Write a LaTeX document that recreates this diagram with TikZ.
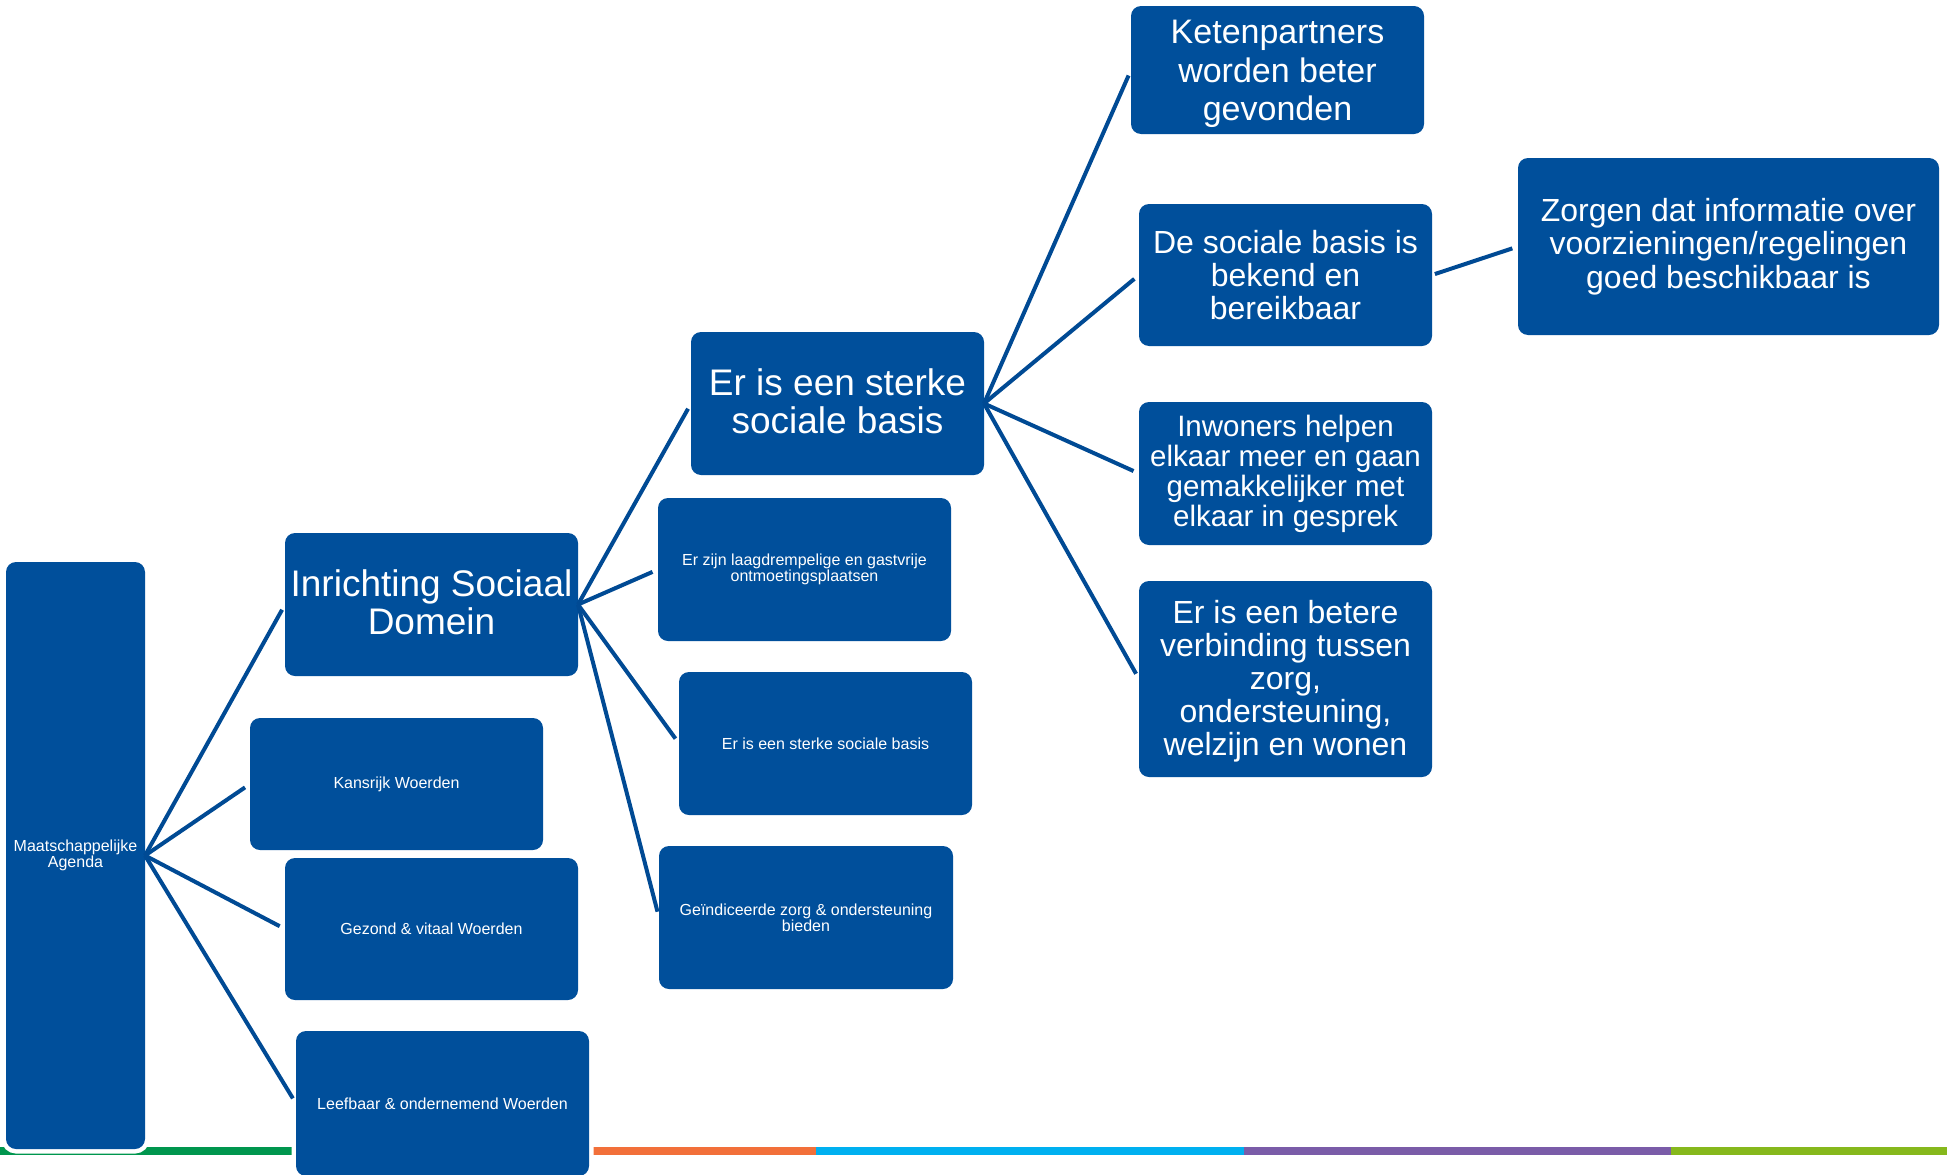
\documentclass[tikz,border=0pt]{standalone}
\usepackage{fontspec}
\setmainfont{Liberation Sans}
\definecolor{boxblue}{RGB}{0,79,155}
\definecolor{linkblue}{RGB}{0,74,148}
\definecolor{bgreen}{RGB}{0,150,78}
\definecolor{borange}{RGB}{242,112,58}
\definecolor{bcyan}{RGB}{0,176,240}
\definecolor{bpurple}{RGB}{122,92,168}
\definecolor{blime}{RGB}{134,184,28}
\newcommand\myupstrut[1]{\rule{0pt}{#1}}
\newcommand\mydnstrut[1]{\rule[-#1]{0pt}{#1}}
\begin{document}
\begin{tikzpicture}[x=1pt,y=-1pt,
  card/.style={rectangle, rounded corners=10pt, fill=boxblue, text=white, align=center,
    inner sep=0pt, outer sep=0pt, preaction={draw=white, line width=9pt, fill=none}},
  link/.style={draw=linkblue, line width=4pt, shorten >=6pt},
  fsz/.style 2 args={font=\fontsize{#1}{#2}\selectfont},
]
\useasboundingbox[fill=white] (0,0) rectangle (1947,1175);

% bottom colour bar
\fill[bgreen]  (0,1147) rectangle (440,1155);
\fill[borange] (440,1147) rectangle (816,1155);
\fill[bcyan]   (816,1147) rectangle (1244,1155);
\fill[bpurple] (1244,1147) rectangle (1671,1155);
\fill[blime]   (1671,1147) rectangle (1947,1155);

% column 1
\node[card, minimum width=139pt, minimum height=587pt, fsz={16}{16}] (ma) at (75.5,855.5) {Maatschappelijke\\Agenda};

% column 2
\node[card, minimum width=293pt, minimum height=143pt, fsz={37}{38.5}] (isd) at (431.5,604.5) {Inrichting Sociaal\\Domein\mydnstrut{5pt}};
\node[card, minimum width=293pt, minimum height=132pt, fsz={16}{16}] (kw) at (396.5,784) {Kansrijk Woerden};
\node[card, minimum width=293pt, minimum height=142pt, fsz={16}{16}] (gv) at (431.5,929) {Gezond \& vitaal Woerden};
\node[card, minimum width=293pt, minimum height=145pt, fsz={16}{16}] (lo) at (442.5,1103.5) {Leefbaar \& ondernemend Woerden};

% column 3
\node[card, minimum width=293pt, minimum height=143pt, fsz={37}{38.5}] (esb) at (837.5,403.5) {Er is een sterke\\sociale basis\mydnstrut{5pt}};
\node[card, minimum width=293pt, minimum height=143pt, fsz={16}{16}] (lgo) at (804.5,569.5) {Er zijn laagdrempelige en gastvrije\\ontmoetingsplaatsen};
\node[card, minimum width=293pt, minimum height=143pt, fsz={16}{16}] (esb2) at (825.5,743.5) {Er is een sterke sociale basis};
\node[card, minimum width=294pt, minimum height=143pt, fsz={16}{16}] (gzo) at (806,917.5) {Geïndiceerde zorg \& ondersteuning\\bieden};

% column 4
\node[card, minimum width=293pt, minimum height=128pt, fsz={34}{38.5}] (kp) at (1277.5,70) {\myupstrut{32pt}Ketenpartners\\worden beter\\gevonden};
\node[card, minimum width=293pt, minimum height=142pt, fsz={32}{33}] (dsb) at (1285.5,275) {De sociale basis is\\bekend en\\bereikbaar};
\node[card, minimum width=293pt, minimum height=143pt, fsz={29.5}{30}] (iw) at (1285.5,473.5) {Inwoners helpen\\elkaar meer en gaan\\gemakkelijker met\\elkaar in gesprek};
\node[card, minimum width=293pt, minimum height=196pt, fsz={32}{33}] (eb) at (1285.5,679) {\myupstrut{27.3pt}Er is een betere\\verbinding tussen\\zorg,\\ondersteuning,\\welzijn en wonen};

% column 5
\node[card, minimum width=421pt, minimum height=177pt, fsz={32}{33.5}] (zd) at (1728.5,246.5) {Zorgen dat informatie over\\voorzieningen/regelingen\\goed beschikbaar is};

% connectors
\draw[link] (ma.east) -- (isd.west);
\draw[link] (ma.east) -- (kw.west);
\draw[link] (ma.east) -- (gv.west);
\draw[link] (ma.east) -- (lo.west);

\draw[link] (isd.east) -- (esb.west);
\draw[link] (isd.east) -- (lgo.west);
\draw[link] (isd.east) -- (esb2.west);
\draw[link] (isd.east) -- (gzo.west);

\draw[link] (esb.east) -- (kp.west);
\draw[link] (esb.east) -- (dsb.west);
\draw[link] (esb.east) -- (iw.west);
\draw[link] (esb.east) -- (eb.west);

\draw[link, shorten <=3pt] (dsb.east) -- (zd.west);
\end{tikzpicture}
\end{document}
